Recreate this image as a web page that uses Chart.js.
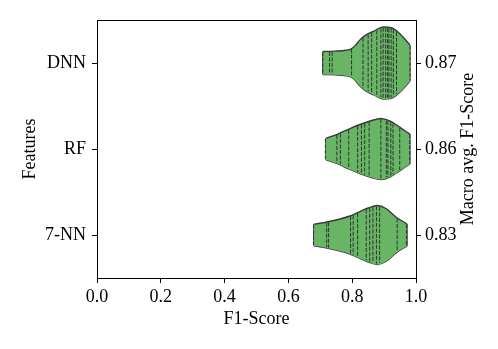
<!DOCTYPE html>
<html>
<head>
<title>F1-Score per model</title>
<script src="https://cdn.jsdelivr.net/npm/chart.js"></script>
<style>body { margin: 0; background: #fff; }</style>
</head>
<body>
<canvas id="violinChart" width="498" height="349"></canvas>

<script>
  // categories and the right hand labels
  const features = ['DNN', 'RF', '7-NN'];
  const macroAvg = ['0.87', '0.86', '0.83'];
  const xTicks = [0.0, 0.2, 0.4, 0.6, 0.8, 1.0];

  // single F1 scores, one stick each
  const dnnScores = [0.708, 0.729, 0.737, 0.798, 0.834, 0.850, 0.861, 0.877, 0.890, 0.897, 0.905, 0.911, 0.915, 0.922, 0.929, 0.939, 0.981];
  const rfScores = [0.716, 0.752, 0.763, 0.789, 0.817, 0.829, 0.839, 0.853, 0.890, 0.907, 0.912, 0.921, 0.928, 0.949, 0.980];
  const knnScores = [0.679, 0.720, 0.726, 0.795, 0.803, 0.817, 0.844, 0.855, 0.865, 0.876, 0.886, 0.941, 0.970];

  // violin outline: score position and half width (in category units)
  const dnnShapeX = [0.708, 0.746, 0.780, 0.797, 0.810, 0.822, 0.840, 0.868, 0.897, 0.925, 0.950, 0.969, 0.981];
  const dnnShapeW = [0.134, 0.138, 0.148, 0.165, 0.205, 0.260, 0.318, 0.372, 0.419, 0.407, 0.337, 0.262, 0.209];
  const rfShapeX = [0.718, 0.755, 0.793, 0.824, 0.856, 0.890, 0.918, 0.944, 0.966, 0.981];
  const rfShapeW = [0.126, 0.174, 0.238, 0.285, 0.326, 0.355, 0.326, 0.267, 0.209, 0.174];
  const knnShapeX = [0.680, 0.721, 0.762, 0.793, 0.824, 0.850, 0.878, 0.906, 0.937, 0.956, 0.972];
  const knnShapeW = [0.126, 0.151, 0.186, 0.221, 0.273, 0.314, 0.343, 0.308, 0.209, 0.163, 0.128];

  const font = { family: "'Liberation Serif', 'DejaVu Serif', serif", size: 18 };
  const fillColor = 'rgb(104, 181, 102)';
  const edgeColor = '#3a3a3a';

  function widthAt(xs, ws, x) {
    if (x <= xs[0]) return ws[0];
    for (let i = 1; i < xs.length; i++) {
      if (x <= xs[i]) {
        const t = (x - xs[i - 1]) / (xs[i] - xs[i - 1]);
        return ws[i - 1] + t * (ws[i] - ws[i - 1]);
      }
    }
    return ws[ws.length - 1];
  }

  function sticks(scores, xs, ws, row) {
    const pts = [];
    scores.forEach(s => {
      const w = widthAt(xs, ws, s) - 0.008;
      pts.push({ x: s, y: row - w }, { x: s, y: row + w }, { x: s, y: null });
    });
    return pts;
  }

  const violins = [
    [dnnScores, dnnShapeX, dnnShapeW],
    [rfScores, rfShapeX, rfShapeW],
    [knnScores, knnShapeX, knnShapeW]
  ];

  const datasets = [];
  violins.forEach(([scores, xs, ws], row) => {
    const last = xs.length - 1;
    // upper curve, filled down to the lower curve
    datasets.push({
      data: xs.map((x, i) => ({ x: x, y: row - ws[i] })),
      showLine: true, fill: '+1', cubicInterpolationMode: 'monotone',
      backgroundColor: fillColor, borderColor: edgeColor, borderWidth: 1.4,
      pointRadius: 0, order: 1
    });
    datasets.push({
      data: xs.map((x, i) => ({ x: x, y: row + ws[i] })),
      showLine: true, fill: false, cubicInterpolationMode: 'monotone',
      borderColor: edgeColor, borderWidth: 1.4,
      pointRadius: 0, order: 1
    });
    // flat ends of the violin
    datasets.push({
      data: [
        { x: xs[0], y: row - ws[0] }, { x: xs[0], y: row + ws[0] }, { x: xs[0], y: null },
        { x: xs[last], y: row - ws[last] }, { x: xs[last], y: row + ws[last] }
      ],
      showLine: true, spanGaps: false, fill: false, tension: 0,
      borderColor: edgeColor, borderWidth: 1.4,
      pointRadius: 0, order: 1
    });
    datasets.push({
      data: sticks(scores, xs, ws, row),
      showLine: true, spanGaps: false, fill: false, tension: 0,
      borderColor: 'rgba(40, 40, 40, 0.9)', borderWidth: 1, borderDash: [4, 1.5],
      pointRadius: 0, order: 0
    });
  });

  // frame on top and the right hand title (reads bottom to top)
  const framePlugin = {
    id: 'frame',
    afterDraw(chart) {
      const { ctx, chartArea: a } = chart;
      ctx.save();
      ctx.strokeStyle = '#000';
      ctx.lineWidth = 1;
      ctx.beginPath();
      ctx.moveTo(a.left, a.top + 0.5);
      ctx.lineTo(a.right, a.top + 0.5);
      ctx.stroke();
      ctx.translate(468, (a.top + a.bottom) / 2);
      ctx.rotate(-Math.PI / 2);
      ctx.fillStyle = '#000';
      ctx.font = font.size + 'px ' + font.family;
      ctx.textAlign = 'center';
      ctx.textBaseline = 'middle';
      ctx.fillText('Macro avg. F1-Score', 0, 0);
      ctx.restore();
    }
  };

  const axisGrid = { drawOnChartArea: false, drawTicks: true, tickLength: 5, color: '#000', tickColor: '#000', tickWidth: 1 };

  new Chart(document.getElementById('violinChart'), {
    type: 'scatter',
    data: { datasets: datasets },
    options: {
      responsive: false,
      animation: false,
      layout: { padding: { left: 19, top: 20, right: 0, bottom: 19 } },
      plugins: { legend: { display: false }, tooltip: { enabled: false } },
      scales: {
        x: {
          type: 'linear', min: 0, max: 1,
          afterBuildTicks: s => { s.ticks = xTicks.map(v => ({ value: v })); },
          afterFit: s => { s.height = 52; },
          ticks: { font: font, color: '#000', padding: 3, maxRotation: 0, callback: v => v.toFixed(1) },
          grid: axisGrid,
          border: { color: '#000', width: 1 },
          title: { display: true, text: 'F1-Score', font: font, color: '#000', padding: 0 }
        },
        y: {
          type: 'linear', position: 'left', reverse: true, min: -0.5, max: 2.5,
          afterBuildTicks: s => { s.ticks = features.map((f, i) => ({ value: i })); },
          afterFit: s => { s.width = 78; },
          ticks: { font: font, color: '#000', padding: 6, callback: (v, i) => features[i] },
          grid: axisGrid,
          border: { color: '#000', width: 1 },
          title: { display: true, text: 'Features', font: font, color: '#000', padding: 0 }
        },
        y2: {
          type: 'linear', position: 'right', reverse: true, min: -0.5, max: 2.5,
          afterBuildTicks: s => { s.ticks = macroAvg.map((m, i) => ({ value: i })); },
          afterFit: s => { s.width = 82; },
          ticks: { font: font, color: '#000', padding: 4, callback: (v, i) => macroAvg[i] },
          grid: axisGrid,
          border: { color: '#000', width: 1 }
        }
      }
    },
    plugins: [framePlugin]
  });
</script>
</body>
</html>
